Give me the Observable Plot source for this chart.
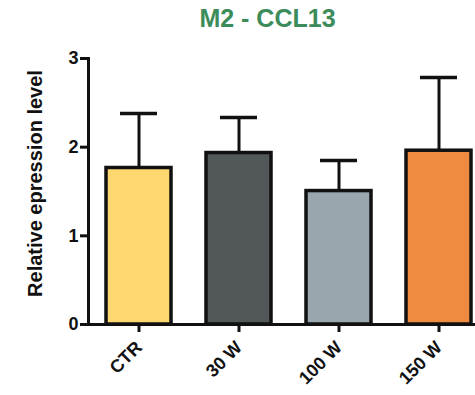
<!DOCTYPE html>
<html>
<head>
<meta charset="utf-8">
<script src="https://cdn.jsdelivr.net/npm/d3@7"></script>
<script src="https://cdn.jsdelivr.net/npm/@observablehq/plot@0.6"></script>
<style>
  html, body { margin: 0; padding: 0; background: #fff; }
  #title { width: 475px; height: 40px; box-sizing: border-box; padding-left: 60px; text-align: center;
    font: bold 25px "Liberation Sans", Arial, sans-serif; line-height: 36px; color: #3b8c5a; }
  svg { display: block; font-family: "Liberation Sans", Arial, sans-serif; }
</style>
</head>
<body>
<div id="title">M2 - CCL13</div>
<div id="chart"></div>
<script>
const categories = ["CTR", "30 W", "100 W", "150 W"];
const means = [1.765, 1.934, 1.505, 1.96];
const upper = [2.38, 2.334, 1.85, 2.786];
const colors = ["#fdd870", "#52575a", "#99a6ad", "#ee8b40"];
const yTicks = [0, 1, 2, 3];
const yLabel = "Relative epression level";

const data = categories.map((c, i) => ({cat: c, value: means[i], upper: upper[i]}));

const chart = Plot.plot({
  width: 475,
  height: 355,
  marginLeft: 88,
  marginRight: 0,
  marginTop: 18,
  marginBottom: 71,
  style: {fontFamily: '"Liberation Sans", Arial, sans-serif', color: "#111"},
  x: {domain: categories, range: [88, 488], paddingInner: 0.35, paddingOuter: 0.17},
  y: {domain: [0, 3]},
  color: {domain: categories, range: colors},
  marks: [
    Plot.ruleX(data, {x: "cat", y1: "value", y2: "upper", stroke: "#111", strokeWidth: 3}),
    Plot.tickY(data, {x: "cat", y: "upper", stroke: "#111", strokeWidth: 3.5, insetLeft: 14, insetRight: 14}),
    Plot.barY(data, {x: "cat", y: "value", fill: "cat", stroke: "#111", strokeWidth: 3.5}),
    Plot.ruleY([0], {stroke: "#111", strokeWidth: 3}),
    Plot.frame({anchor: "left", stroke: "#111", strokeWidth: 3}),
    Plot.axisY({ticks: yTicks, tickSize: 8, tickPadding: 2, tickFormat: d => d, fontSize: 18, fontWeight: "bold", strokeWidth: 3, label: null}),
    Plot.axisX({tickSize: 8, tickPadding: 12, tickRotate: -45, fontSize: 18, fontWeight: "bold", strokeWidth: 3, label: null}),
    Plot.text([yLabel], {text: d => d, frameAnchor: "left", textAnchor: "middle", rotate: -90, dx: -53, dy: -8, fontSize: 20, fontWeight: "bold", fill: "#111"})
  ]
});
document.getElementById("chart").appendChild(chart);
</script>
</body>
</html>
